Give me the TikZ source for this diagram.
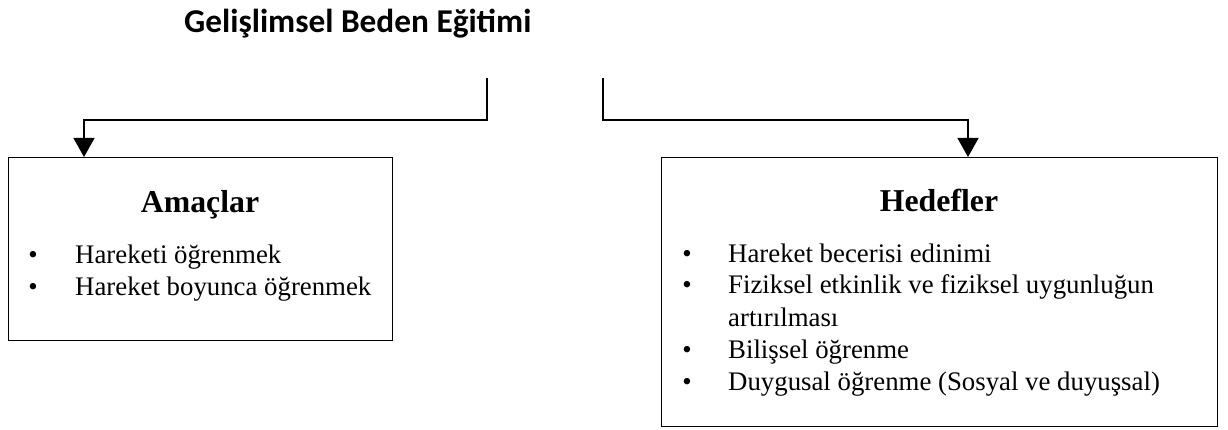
\documentclass[tikz,border=0pt]{standalone}
\usepackage{fontspec}
\setmainfont{Liberation Serif}
\newfontfamily\headfont{Carlito}
\usetikzlibrary{arrows.meta}
\begin{document}
\begin{tikzpicture}[x=1pt,y=-1pt,
  box/.style={draw, line width=1.3pt, anchor=north west, inner sep=0pt},
  conn/.style={line width=1.3pt},
  tip/.style={-{Triangle[length=19pt,width=21pt]}},
  title/.style={anchor=base west, inner sep=0pt, font=\headfont\fontsize{33.3}{33.3}\selectfont\bfseries},
  heading/.style={anchor=base, inner sep=0pt, font=\fontsize{31.8}{31.8}\selectfont\bfseries},
  item/.style={anchor=base west, inner sep=0pt, font=\fontsize{26.8}{26.8}\selectfont},
  dot/.style={anchor=base, inner sep=0pt, font=\fontsize{26.8}{26.8}\selectfont}]
\useasboundingbox (0,0) rectangle (1228,430);

% title
\node[title] (head) at (184,33) {Gelişlimsel Beden Eğitimi};

% the two boxes
\node[box, minimum width=384pt, minimum height=183pt] (amac) at (8,157) {};
\node[box, minimum width=556pt, minimum height=269pt] (hedef) at (661,157) {};

% left box content
\node[heading] (amacT) at (200,213) {Amaçlar};
\node[dot] (a1d) at (33,263) {•};
\node[item] (a1) at (75,263) {Hareketi öğrenmek};
\node[dot] (a2d) at (33,295) {•};
\node[item] (a2) at (75,295) {Hareket boyunca öğrenmek};

% right box content
\node[heading] (hedefT) at (939,212) {Hedefler};
\node[dot] (h1d) at (687,262) {•};
\node[item] (h1) at (728,262) {Hareket becerisi edinimi};
\node[dot] (h2d) at (687,294) {•};
\node[item] (h2) at (728,294) {Fiziksel etkinlik ve fiziksel uygunluğun};
\node[item] (h2b) at (728,326) {artırılması};
\node[dot] (h3d) at (687,358) {•};
\node[item] (h3) at (728,358) {Bilişsel öğrenme};
\node[dot] (h4d) at (687,390) {•};
\node[item] (h4) at (728,390) {Duygusal öğrenme (Sosyal ve duyuşsal)};

% connectors
\coordinate (lstart) at (487,78);
\coordinate (lbend) at (84,120);
\coordinate (ltip) at (84,157);
\coordinate (rstart) at (603,78);
\coordinate (rbend) at (968,120);
\coordinate (rtip) at (968,157);
\draw[conn, tip] (lstart) |- (lbend) -- (ltip);
\draw[conn, tip] (rstart) |- (rbend) -- (rtip);
\end{tikzpicture}
\end{document}
